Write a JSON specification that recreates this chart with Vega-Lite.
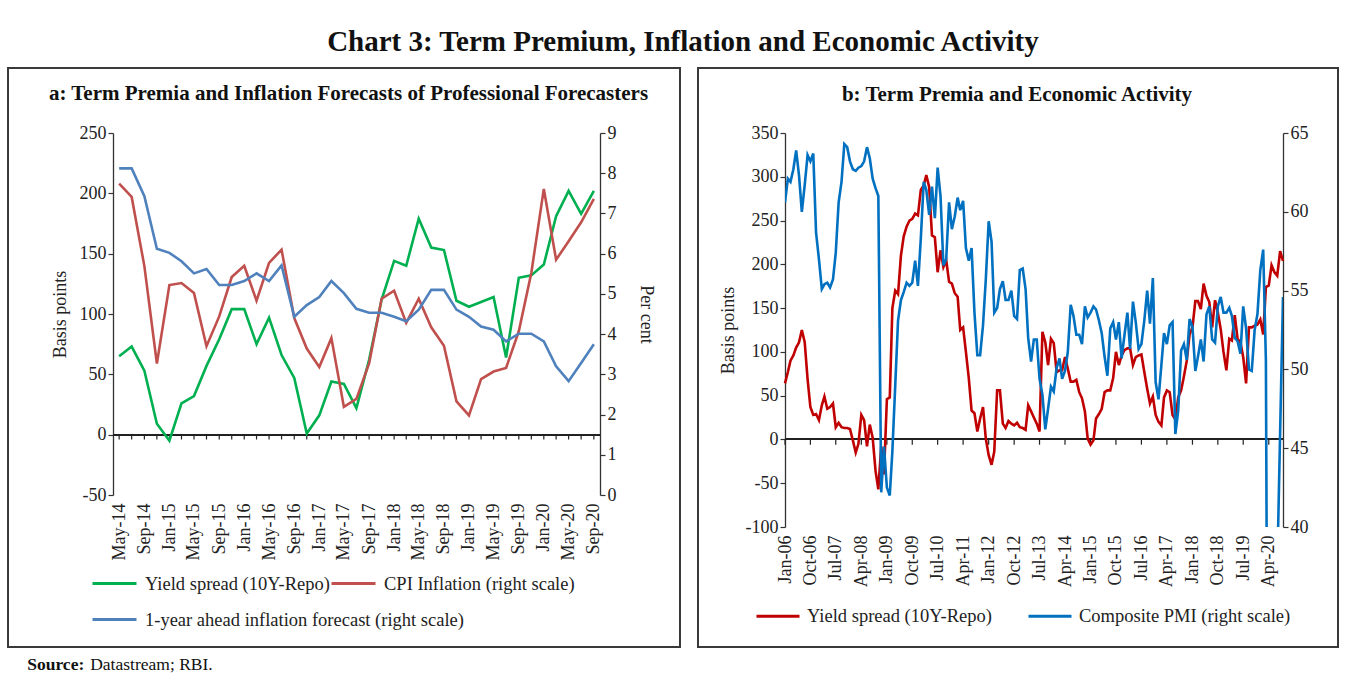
{
"$schema": "https://vega.github.io/schema/vega-lite/v6.json",
"padding": {"left": 7, "top": 28, "right": 5, "bottom": 2},
"background": "white",
"title": {"text": "Chart 3: Term Premium, Inflation and Economic Activity", "fontSize": 29, "font": "Liberation Serif", "fontWeight": "bold", "anchor": "middle", "color": "#111", "offset": 10, "dx": 10},
"config": {
  "font": "Liberation Serif",
  "view": {"stroke": null},
  "axis": {"labelFont": "Liberation Serif", "labelFontSize": 18, "labelColor": "#222", "titleFont": "Liberation Serif", "titleFontSize": 18, "titleFontWeight": "normal", "titleColor": "#222", "domainColor": "#333", "tickColor": "#333", "grid": false, "tickSize": 5, "domainWidth": 1.3, "tickWidth": 1.2},
  "legend": {"labelFont": "Liberation Serif", "labelFontSize": 18.5, "labelColor": "#222", "title": null}
},
"datasets": {
  "a": [
    {"d":"2014/05/01","spread":65,"cpi":7.74,"fcst":8.12},
    {"d":"2014/07/01","spread":73,"cpi":7.41,"fcst":8.12},
    {"d":"2014/09/01","spread":53,"cpi":5.69,"fcst":7.43},
    {"d":"2014/11/01","spread":9,"cpi":3.27,"fcst":6.12},
    {"d":"2015/01/01","spread":-5,"cpi":5.22,"fcst":6.02},
    {"d":"2015/03/01","spread":26,"cpi":5.27,"fcst":5.81},
    {"d":"2015/05/01","spread":32,"cpi":5.02,"fcst":5.51},
    {"d":"2015/07/01","spread":57,"cpi":3.70,"fcst":5.62},
    {"d":"2015/09/01","spread":79,"cpi":4.44,"fcst":5.22},
    {"d":"2015/11/01","spread":104,"cpi":5.42,"fcst":5.22},
    {"d":"2016/01/01","spread":104,"cpi":5.70,"fcst":5.32},
    {"d":"2016/03/01","spread":75,"cpi":4.83,"fcst":5.51},
    {"d":"2016/05/01","spread":97,"cpi":5.77,"fcst":5.32},
    {"d":"2016/07/01","spread":66,"cpi":6.10,"fcst":5.71},
    {"d":"2016/09/01","spread":47,"cpi":4.40,"fcst":4.43},
    {"d":"2016/11/01","spread":1,"cpi":3.64,"fcst":4.72},
    {"d":"2017/01/01","spread":16,"cpi":3.18,"fcst":4.92},
    {"d":"2017/03/01","spread":44,"cpi":3.90,"fcst":5.32},
    {"d":"2017/05/01","spread":42,"cpi":2.19,"fcst":5.02},
    {"d":"2017/07/01","spread":22,"cpi":2.39,"fcst":4.63},
    {"d":"2017/09/01","spread":62,"cpi":3.27,"fcst":4.53},
    {"d":"2017/11/01","spread":112,"cpi":4.88,"fcst":4.53},
    {"d":"2018/01/01","spread":144,"cpi":5.08,"fcst":4.43},
    {"d":"2018/03/01","spread":140,"cpi":4.28,"fcst":4.32},
    {"d":"2018/05/01","spread":179,"cpi":4.88,"fcst":4.61},
    {"d":"2018/07/01","spread":155,"cpi":4.17,"fcst":5.10},
    {"d":"2018/09/01","spread":153,"cpi":3.71,"fcst":5.10},
    {"d":"2018/11/01","spread":111,"cpi":2.33,"fcst":4.61},
    {"d":"2019/01/01","spread":106,"cpi":1.98,"fcst":4.43},
    {"d":"2019/03/01","spread":110,"cpi":2.88,"fcst":4.19},
    {"d":"2019/05/01","spread":114,"cpi":3.07,"fcst":4.11},
    {"d":"2019/07/01","spread":64,"cpi":3.16,"fcst":3.82},
    {"d":"2019/09/01","spread":130,"cpi":4.07,"fcst":4.01},
    {"d":"2019/11/01","spread":132,"cpi":5.52,"fcst":4.01},
    {"d":"2020/01/01","spread":141,"cpi":7.61,"fcst":3.82},
    {"d":"2020/03/01","spread":181,"cpi":5.85,"fcst":3.20},
    {"d":"2020/05/01","spread":202,"cpi":6.31,"fcst":2.83},
    {"d":"2020/07/01","spread":183,"cpi":6.78,"fcst":3.28},
    {"d":"2020/09/01","spread":202,"cpi":7.36,"fcst":3.75}
  ],
  "b": [
    {"d":"2006/01/01","s":64,"p":60.6},{"d":"2006/02/01","s":77,"p":62.1},{"d":"2006/03/01","s":90,"p":61.9},{"d":"2006/04/01","s":96,"p":62.7},
    {"d":"2006/05/01","s":105,"p":63.9},{"d":"2006/06/01","s":111,"p":62.3},{"d":"2006/07/01","s":125,"p":60.0},{"d":"2006/08/01","s":111,"p":61.7},
    {"d":"2006/09/01","s":69,"p":63.6},{"d":"2006/10/01","s":37,"p":63.2},{"d":"2006/11/01","s":28,"p":63.7},{"d":"2006/12/01","s":29,"p":58.7},
    {"d":"2007/01/01","s":22,"p":57.0},{"d":"2007/02/01","s":39,"p":55.1},{"d":"2007/03/01","s":49,"p":55.4},{"d":"2007/04/01","s":35,"p":55.5},
    {"d":"2007/05/01","s":37,"p":55.2},{"d":"2007/06/01","s":41,"p":55.7},{"d":"2007/07/01","s":14,"p":57.4},{"d":"2007/08/01","s":19,"p":60.6},
    {"d":"2007/09/01","s":14,"p":61.9},{"d":"2007/10/01","s":13,"p":64.3},{"d":"2007/11/01","s":13,"p":64.1},{"d":"2007/12/01","s":12,"p":63.2},
    {"d":"2008/01/01","s":-1,"p":62.7},{"d":"2008/02/01","s":-15,"p":62.6},{"d":"2008/03/01","s":-5,"p":62.8},{"d":"2008/04/01","s":28,"p":62.9},
    {"d":"2008/05/01","s":22,"p":63.2},{"d":"2008/06/01","s":-8,"p":64.1},{"d":"2008/07/01","s":17,"p":63.4},{"d":"2008/08/01","s":2,"p":62.1},
    {"d":"2008/09/01","s":-36,"p":61.5},{"d":"2008/10/01","s":-57,"p":61.0},{"d":"2008/11/01","s":-8,"p":42.2},{"d":"2008/12/01","s":-40,"p":45.1},
    {"d":"2009/01/01","s":46,"p":42.5},{"d":"2009/02/01","s":48,"p":42.0},{"d":"2009/03/01","s":150,"p":44.8},{"d":"2009/04/01","s":170,"p":49.0},
    {"d":"2009/05/01","s":166,"p":53.1},{"d":"2009/06/01","s":210,"p":54.4},{"d":"2009/07/01","s":232,"p":54.9},{"d":"2009/08/01","s":243,"p":55.5},
    {"d":"2009/09/01","s":250,"p":55.3},{"d":"2009/10/01","s":252,"p":55.5},{"d":"2009/11/01","s":258,"p":56.9},{"d":"2009/12/01","s":256,"p":55.3},
    {"d":"2010/01/01","s":285,"p":58.3},{"d":"2010/02/01","s":290,"p":61.9},{"d":"2010/03/01","s":302,"p":61.4},{"d":"2010/04/01","s":288,"p":59.8},
    {"d":"2010/05/01","s":233,"p":61.6},{"d":"2010/06/01","s":231,"p":59.6},{"d":"2010/07/01","s":191,"p":62.8},{"d":"2010/08/01","s":216,"p":61.0},
    {"d":"2010/09/01","s":197,"p":56.6},{"d":"2010/10/01","s":205,"p":57.0},{"d":"2010/11/01","s":180,"p":60.6},{"d":"2010/12/01","s":178,"p":58.9},
    {"d":"2011/01/01","s":167,"p":59.7},{"d":"2011/02/01","s":163,"p":60.9},{"d":"2011/03/01","s":125,"p":60.1},{"d":"2011/04/01","s":128,"p":60.7},
    {"d":"2011/05/01","s":100,"p":57.7},{"d":"2011/06/01","s":70,"p":56.9},{"d":"2011/07/01","s":33,"p":57.7},{"d":"2011/08/01","s":30,"p":53.6},
    {"d":"2011/09/01","s":9,"p":50.9},{"d":"2011/10/01","s":24,"p":50.9},{"d":"2011/11/01","s":37,"p":52.8},{"d":"2011/12/01","s":1,"p":55.7},
    {"d":"2012/01/01","s":-18,"p":59.4},{"d":"2012/02/01","s":-29,"p":58.1},{"d":"2012/03/01","s":-14,"p":53.6},{"d":"2012/04/01","s":56,"p":53.9},
    {"d":"2012/05/01","s":56,"p":55.1},{"d":"2012/06/01","s":18,"p":55.6},{"d":"2012/07/01","s":13,"p":54.4},{"d":"2012/08/01","s":21,"p":54.4},
    {"d":"2012/09/01","s":18,"p":55.0},{"d":"2012/10/01","s":16,"p":53.4},{"d":"2012/11/01","s":19,"p":53.2},{"d":"2012/12/01","s":14,"p":56.3},
    {"d":"2013/01/01","s":13,"p":56.4},{"d":"2013/02/01","s":11,"p":55.1},{"d":"2013/03/01","s":39,"p":52.0},{"d":"2013/04/01","s":32,"p":50.5},
    {"d":"2013/05/01","s":25,"p":51.9},{"d":"2013/06/01","s":18,"p":51.9},{"d":"2013/07/01","s":9,"p":49.4},{"d":"2013/08/01","s":123,"p":48.4},
    {"d":"2013/09/01","s":111,"p":46.2},{"d":"2013/10/01","s":85,"p":47.5},{"d":"2013/11/01","s":115,"p":48.9},{"d":"2013/12/01","s":110,"p":48.6},
    {"d":"2014/01/01","s":77,"p":50.1},{"d":"2014/02/01","s":79,"p":50.7},{"d":"2014/03/01","s":79,"p":49.4},{"d":"2014/04/01","s":94,"p":49.9},
    {"d":"2014/05/01","s":81,"p":51.1},{"d":"2014/06/01","s":66,"p":54.1},{"d":"2014/07/01","s":66,"p":53.4},{"d":"2014/08/01","s":68,"p":52.2},
    {"d":"2014/09/01","s":54,"p":52.2},{"d":"2014/10/01","s":47,"p":51.6},{"d":"2014/11/01","s":32,"p":54.0},{"d":"2014/12/01","s":1,"p":53.3},
    {"d":"2015/01/01","s":-6,"p":53.6},{"d":"2015/02/01","s":-1,"p":54.0},{"d":"2015/03/01","s":24,"p":53.8},{"d":"2015/04/01","s":29,"p":53.1},
    {"d":"2015/05/01","s":35,"p":52.3},{"d":"2015/06/01","s":54,"p":50.8},{"d":"2015/07/01","s":56,"p":49.6},{"d":"2015/08/01","s":56,"p":52.6},
    {"d":"2015/09/01","s":70,"p":53.0},{"d":"2015/10/01","s":100,"p":51.9},{"d":"2015/11/01","s":85,"p":53.0},{"d":"2015/12/01","s":96,"p":50.7},
    {"d":"2016/01/01","s":102,"p":52.2},{"d":"2016/02/01","s":104,"p":53.6},{"d":"2016/03/01","s":104,"p":51.3},{"d":"2016/04/01","s":85,"p":54.3},
    {"d":"2016/05/01","s":94,"p":53.0},{"d":"2016/06/01","s":96,"p":51.3},{"d":"2016/07/01","s":97,"p":51.6},{"d":"2016/08/01","s":77,"p":53.1},
    {"d":"2016/09/01","s":58,"p":55.0},{"d":"2016/10/01","s":41,"p":52.9},{"d":"2016/11/01","s":49,"p":55.8},{"d":"2016/12/01","s":28,"p":49.2},
    {"d":"2017/01/01","s":20,"p":48.1},{"d":"2017/02/01","s":16,"p":50.3},{"d":"2017/03/01","s":48,"p":52.3},{"d":"2017/04/01","s":56,"p":51.6},
    {"d":"2017/05/01","s":54,"p":52.8},{"d":"2017/06/01","s":28,"p":53.0},{"d":"2017/07/01","s":23,"p":45.9},{"d":"2017/08/01","s":48,"p":47.4},
    {"d":"2017/09/01","s":56,"p":51.2},{"d":"2017/10/01","s":72,"p":51.6},{"d":"2017/11/01","s":90,"p":50.6},{"d":"2017/12/01","s":120,"p":53.2},
    {"d":"2018/01/01","s":128,"p":52.7},{"d":"2018/02/01","s":158,"p":49.9},{"d":"2018/03/01","s":158,"p":50.8},{"d":"2018/04/01","s":149,"p":51.9},
    {"d":"2018/05/01","s":178,"p":50.5},{"d":"2018/06/01","s":164,"p":53.5},{"d":"2018/07/01","s":157,"p":54.0},{"d":"2018/08/01","s":128,"p":51.9},
    {"d":"2018/09/01","s":159,"p":51.7},{"d":"2018/10/01","s":145,"p":54.0},{"d":"2018/11/01","s":126,"p":54.6},{"d":"2018/12/01","s":100,"p":53.6},
    {"d":"2019/01/01","s":79,"p":53.6},{"d":"2019/02/01","s":115,"p":53.9},{"d":"2019/03/01","s":113,"p":53.4},{"d":"2019/04/01","s":142,"p":52.0},
    {"d":"2019/05/01","s":115,"p":51.8},{"d":"2019/06/01","s":111,"p":51.0},{"d":"2019/07/01","s":94,"p":54.0},{"d":"2019/08/01","s":64,"p":52.6},
    {"d":"2019/09/01","s":128,"p":50.0},{"d":"2019/10/01","s":128,"p":49.9},{"d":"2019/11/01","s":130,"p":52.5},{"d":"2019/12/01","s":131,"p":53.5},
    {"d":"2020/01/01","s":137,"p":56.3},{"d":"2020/02/01","s":120,"p":57.6},{"d":"2020/03/01","s":174,"p":50.6},{"d":"2020/04/01","s":176,"p":7.2},
    {"d":"2020/05/01","s":199,"p":14.8},{"d":"2020/06/01","s":191,"p":37.8},{"d":"2020/07/01","s":187,"p":37.2},{"d":"2020/08/01","s":215,"p":46.0},
    {"d":"2020/09/01","s":204,"p":54.6}
  ]
},
"vconcat": [
 {
  "title": {"text": "Source:", "orient": "bottom", "anchor": "start", "fontSize": 17.5, "fontWeight": "bold", "font": "Liberation Serif", "color": "#111", "dx": 20, "offset": -17.5},
  "vconcat": [
   {
    "title": {"text": "Datastream; RBI.", "orient": "bottom", "anchor": "start", "fontSize": 17.5, "fontWeight": "normal", "font": "Liberation Serif", "color": "#111", "dx": 83, "offset": 8},
    "spacing": 16,
    "resolve": {"scale": {"color": "independent", "x": "independent", "y": "independent"}},
    "hconcat": [
     {
      "title": {"text": "a: Term Premia and Inflation Forecasts of Professional Forecasters", "fontSize": 21, "fontWeight": "bold", "font": "Liberation Serif", "color": "#111", "anchor": "middle", "dx": -8, "offset": -37},
      "width": 487, "height": 362,
      "data": {"name": "a"},
      "layer": [
        {"layer": [
          {"mark": {"type": "rect", "fill": "transparent", "stroke": "#3a3a3a", "strokeWidth": 1.2},
           "encoding": {
             "x": {"datum": {"year":2012,"month":11,"date":4}, "type": "temporal",
                   "scale": {"domain": [{"year":2014,"month":4,"date":1},{"year":2020,"month":10,"date":1}]},
                   "axis": {"title": null, "domain": false, "ticks": false, "format": "%b-%y", "labelAngle": -90, "labelPadding": 8,
                            "values": [{"year":2014,"month":5,"date":1},{"year":2014,"month":9,"date":1},
                                       {"year":2015,"month":1,"date":1},{"year":2015,"month":5,"date":1},{"year":2015,"month":9,"date":1},
                                       {"year":2016,"month":1,"date":1},{"year":2016,"month":5,"date":1},{"year":2016,"month":9,"date":1},
                                       {"year":2017,"month":1,"date":1},{"year":2017,"month":5,"date":1},{"year":2017,"month":9,"date":1},
                                       {"year":2018,"month":1,"date":1},{"year":2018,"month":5,"date":1},{"year":2018,"month":9,"date":1},
                                       {"year":2019,"month":1,"date":1},{"year":2019,"month":5,"date":1},{"year":2019,"month":9,"date":1},
                                       {"year":2020,"month":1,"date":1},{"year":2020,"month":5,"date":1},{"year":2020,"month":9,"date":1}]}},
             "x2": {"datum": {"year":2021,"month":10,"date":27}},
             "y": {"datum": 304, "type": "quantitative", "scale": {"domain": [-50, 250]},
                   "axis": {"title": "Basis points", "values": [-50,0,50,100,150,200,250], "titlePadding": 10, "labelExpr": "'' + datum.value"}},
             "y2": {"datum": -176}}},
          {"mark": {"type": "rule", "color": "#222", "strokeWidth": 1.3},
           "encoding": {"y": {"datum": 0, "type": "quantitative", "scale": {"domain": [-50, 250]},
                              "axis": {"title": "Basis points", "values": [-50,0,50,100,150,200,250], "titlePadding": 10, "labelExpr": "'' + datum.value"}}}},
          {"mark": {"type": "rule", "color": "#222", "strokeWidth": 1.2},
           "encoding": {
             "x": {"field": "d", "type": "temporal",
                   "scale": {"domain": [{"year":2014,"month":4,"date":1},{"year":2020,"month":10,"date":1}]},
                   "axis": {"title": null, "domain": false, "ticks": false, "format": "%b-%y", "labelAngle": -90, "labelPadding": 8,
                            "values": [{"year":2014,"month":5,"date":1},{"year":2014,"month":9,"date":1},
                                       {"year":2015,"month":1,"date":1},{"year":2015,"month":5,"date":1},{"year":2015,"month":9,"date":1},
                                       {"year":2016,"month":1,"date":1},{"year":2016,"month":5,"date":1},{"year":2016,"month":9,"date":1},
                                       {"year":2017,"month":1,"date":1},{"year":2017,"month":5,"date":1},{"year":2017,"month":9,"date":1},
                                       {"year":2018,"month":1,"date":1},{"year":2018,"month":5,"date":1},{"year":2018,"month":9,"date":1},
                                       {"year":2019,"month":1,"date":1},{"year":2019,"month":5,"date":1},{"year":2019,"month":9,"date":1},
                                       {"year":2020,"month":1,"date":1},{"year":2020,"month":5,"date":1},{"year":2020,"month":9,"date":1}]}},
             "y": {"datum": 0, "type": "quantitative", "scale": {"domain": [-50, 250]},
                   "axis": {"title": "Basis points", "values": [-50,0,50,100,150,200,250], "titlePadding": 10, "labelExpr": "'' + datum.value"}},
             "y2": {"datum": -4}}},
          {"mark": {"type": "line", "strokeWidth": 2.6},
           "encoding": {
             "x": {"field": "d", "type": "temporal",
                   "scale": {"domain": [{"year":2014,"month":4,"date":1},{"year":2020,"month":10,"date":1}]},
                   "axis": {"title": null, "domain": false, "ticks": false, "format": "%b-%y", "labelAngle": -90, "labelPadding": 8,
                            "values": [{"year":2014,"month":5,"date":1},{"year":2014,"month":9,"date":1},
                                       {"year":2015,"month":1,"date":1},{"year":2015,"month":5,"date":1},{"year":2015,"month":9,"date":1},
                                       {"year":2016,"month":1,"date":1},{"year":2016,"month":5,"date":1},{"year":2016,"month":9,"date":1},
                                       {"year":2017,"month":1,"date":1},{"year":2017,"month":5,"date":1},{"year":2017,"month":9,"date":1},
                                       {"year":2018,"month":1,"date":1},{"year":2018,"month":5,"date":1},{"year":2018,"month":9,"date":1},
                                       {"year":2019,"month":1,"date":1},{"year":2019,"month":5,"date":1},{"year":2019,"month":9,"date":1},
                                       {"year":2020,"month":1,"date":1},{"year":2020,"month":5,"date":1},{"year":2020,"month":9,"date":1}]}},
             "y": {"field": "spread", "type": "quantitative", "scale": {"domain": [-50, 250]},
                   "axis": {"title": "Basis points", "values": [-50,0,50,100,150,200,250], "titlePadding": 10, "labelExpr": "'' + datum.value"}},
             "color": {"datum": "Yield spread (10Y-Repo)", "type": "nominal",
                       "scale": {"domain": ["Yield spread (10Y-Repo)", "CPI Inflation (right scale)"],
                                 "range": ["#00B050", "#C0504D"]},
                       "legend": {"orient": "none", "legendX": -22, "legendY": 427, "direction": "horizontal", "columns": 2,
                                  "symbolType": "stroke", "symbolSize": 1936, "symbolStrokeWidth": 3, "labelLimit": 600, "labelOffset": 7,
                                  "columnPadding": -7, "title": null}}}}
        ]},
        {"layer": [
          {"mark": {"type": "line", "strokeWidth": 2.6},
           "encoding": {
             "x": {"field": "d", "type": "temporal",
                   "scale": {"domain": [{"year":2014,"month":4,"date":1},{"year":2020,"month":10,"date":1}]},
                   "axis": {"title": null, "domain": false, "ticks": false, "format": "%b-%y", "labelAngle": -90, "labelPadding": 8,
                            "values": [{"year":2014,"month":5,"date":1},{"year":2014,"month":9,"date":1},
                                       {"year":2015,"month":1,"date":1},{"year":2015,"month":5,"date":1},{"year":2015,"month":9,"date":1},
                                       {"year":2016,"month":1,"date":1},{"year":2016,"month":5,"date":1},{"year":2016,"month":9,"date":1},
                                       {"year":2017,"month":1,"date":1},{"year":2017,"month":5,"date":1},{"year":2017,"month":9,"date":1},
                                       {"year":2018,"month":1,"date":1},{"year":2018,"month":5,"date":1},{"year":2018,"month":9,"date":1},
                                       {"year":2019,"month":1,"date":1},{"year":2019,"month":5,"date":1},{"year":2019,"month":9,"date":1},
                                       {"year":2020,"month":1,"date":1},{"year":2020,"month":5,"date":1},{"year":2020,"month":9,"date":1}]}},
             "y": {"field": "cpi", "type": "quantitative", "scale": {"domain": [0, 9]},
                   "axis": {"orient": "right", "title": "Per cent", "values": [0,1,2,3,4,5,6,7,8,9], "titlePadding": 20}},
             "color": {"datum": "CPI Inflation (right scale)", "type": "nominal"}}},
          {"mark": {"type": "line", "strokeWidth": 2.6},
           "encoding": {
             "x": {"field": "d", "type": "temporal",
                   "scale": {"domain": [{"year":2014,"month":4,"date":1},{"year":2020,"month":10,"date":1}]},
                   "axis": {"title": null, "domain": false, "ticks": false, "format": "%b-%y", "labelAngle": -90, "labelPadding": 8,
                            "values": [{"year":2014,"month":5,"date":1},{"year":2014,"month":9,"date":1},
                                       {"year":2015,"month":1,"date":1},{"year":2015,"month":5,"date":1},{"year":2015,"month":9,"date":1},
                                       {"year":2016,"month":1,"date":1},{"year":2016,"month":5,"date":1},{"year":2016,"month":9,"date":1},
                                       {"year":2017,"month":1,"date":1},{"year":2017,"month":5,"date":1},{"year":2017,"month":9,"date":1},
                                       {"year":2018,"month":1,"date":1},{"year":2018,"month":5,"date":1},{"year":2018,"month":9,"date":1},
                                       {"year":2019,"month":1,"date":1},{"year":2019,"month":5,"date":1},{"year":2019,"month":9,"date":1},
                                       {"year":2020,"month":1,"date":1},{"year":2020,"month":5,"date":1},{"year":2020,"month":9,"date":1}]}},
             "y": {"field": "fcst", "type": "quantitative", "scale": {"domain": [0, 9]},
                   "axis": {"orient": "right", "title": "Per cent", "values": [0,1,2,3,4,5,6,7,8,9], "titlePadding": 20}},
             "stroke": {"datum": "1-year ahead inflation forecast (right scale)", "type": "nominal",
                        "scale": {"range": ["#4F81BD"]},
                        "legend": {"orient": "none", "legendX": -22, "legendY": 463, "direction": "horizontal",
                                   "symbolType": "stroke", "symbolSize": 1936, "symbolStrokeWidth": 3, "labelLimit": 600, "labelOffset": 7,
                                   "title": null}}}}
        ]}
      ],
      "resolve": {"scale": {"y": "independent"}}
     },
     {
      "title": {"text": "b: Term Premia and Economic Activity", "fontSize": 21, "fontWeight": "bold", "font": "Liberation Serif", "color": "#111", "anchor": "middle", "dx": -17, "offset": -37},
      "width": 498, "height": 394,
      "data": {"name": "b"},
      "layer": [
        {"layer": [
          {"mark": {"type": "rect", "fill": "transparent", "stroke": "#3a3a3a", "strokeWidth": 1.2},
           "encoding": {
             "x": {"datum": {"year":2003,"month":6,"date":10}, "type": "temporal",
                   "scale": {"domain": [{"year":2006,"month":1,"date":1},{"year":2020,"month":9,"date":1}]},
                   "axis": {"title": null, "domain": false, "ticks": false, "format": "%b-%y", "labelAngle": -90, "labelPadding": 8,
                            "values": [{"year":2006,"month":1,"date":1},{"year":2006,"month":10,"date":1},{"year":2007,"month":7,"date":1},
                                       {"year":2008,"month":4,"date":1},{"year":2009,"month":1,"date":1},{"year":2009,"month":10,"date":1},
                                       {"year":2010,"month":7,"date":1},{"year":2011,"month":4,"date":1},{"year":2012,"month":1,"date":1},
                                       {"year":2012,"month":10,"date":1},{"year":2013,"month":7,"date":1},{"year":2014,"month":4,"date":1},
                                       {"year":2015,"month":1,"date":1},{"year":2015,"month":10,"date":1},{"year":2016,"month":7,"date":1},
                                       {"year":2017,"month":4,"date":1},{"year":2018,"month":1,"date":1},{"year":2018,"month":10,"date":1},
                                       {"year":2019,"month":7,"date":1},{"year":2020,"month":4,"date":1}]}},
             "x2": {"datum": {"year":2022,"month":4,"date":16}},
             "y": {"datum": 424, "type": "quantitative", "scale": {"domain": [-100, 350]},
                   "axis": {"title": "Basis points", "values": [-100,-50,0,50,100,150,200,250,300,350], "titlePadding": 8, "labelExpr": "'' + datum.value"}},
             "y2": {"datum": -237}}},
          {"mark": {"type": "rule", "color": "#222", "strokeWidth": 1.3},
           "encoding": {"y": {"datum": 0, "type": "quantitative", "scale": {"domain": [-100, 350]},
                              "axis": {"title": "Basis points", "values": [-100,-50,0,50,100,150,200,250,300,350], "titlePadding": 8, "labelExpr": "'' + datum.value"}}}},
          {"transform": [{"filter": "((year(toDate(datum.d)) - 2006) * 12 + month(toDate(datum.d))) % 9 == 0"}],
           "mark": {"type": "rule", "color": "#222", "strokeWidth": 1.2},
           "encoding": {
             "x": {"field": "d", "type": "temporal",
                   "scale": {"domain": [{"year":2006,"month":1,"date":1},{"year":2020,"month":9,"date":1}]},
                   "axis": {"title": null, "domain": false, "ticks": false, "format": "%b-%y", "labelAngle": -90, "labelPadding": 8,
                            "values": [{"year":2006,"month":1,"date":1},{"year":2006,"month":10,"date":1},{"year":2007,"month":7,"date":1},
                                       {"year":2008,"month":4,"date":1},{"year":2009,"month":1,"date":1},{"year":2009,"month":10,"date":1},
                                       {"year":2010,"month":7,"date":1},{"year":2011,"month":4,"date":1},{"year":2012,"month":1,"date":1},
                                       {"year":2012,"month":10,"date":1},{"year":2013,"month":7,"date":1},{"year":2014,"month":4,"date":1},
                                       {"year":2015,"month":1,"date":1},{"year":2015,"month":10,"date":1},{"year":2016,"month":7,"date":1},
                                       {"year":2017,"month":4,"date":1},{"year":2018,"month":1,"date":1},{"year":2018,"month":10,"date":1},
                                       {"year":2019,"month":7,"date":1},{"year":2020,"month":4,"date":1}]}},
             "y": {"datum": 0, "type": "quantitative", "scale": {"domain": [-100, 350]},
                   "axis": {"title": "Basis points", "values": [-100,-50,0,50,100,150,200,250,300,350], "titlePadding": 8, "labelExpr": "'' + datum.value"}},
             "y2": {"datum": -6}}},
          {"mark": {"type": "line", "strokeWidth": 2.6},
           "encoding": {
             "x": {"field": "d", "type": "temporal",
                   "scale": {"domain": [{"year":2006,"month":1,"date":1},{"year":2020,"month":9,"date":1}]},
                   "axis": {"title": null, "domain": false, "ticks": false, "format": "%b-%y", "labelAngle": -90, "labelPadding": 8,
                            "values": [{"year":2006,"month":1,"date":1},{"year":2006,"month":10,"date":1},{"year":2007,"month":7,"date":1},
                                       {"year":2008,"month":4,"date":1},{"year":2009,"month":1,"date":1},{"year":2009,"month":10,"date":1},
                                       {"year":2010,"month":7,"date":1},{"year":2011,"month":4,"date":1},{"year":2012,"month":1,"date":1},
                                       {"year":2012,"month":10,"date":1},{"year":2013,"month":7,"date":1},{"year":2014,"month":4,"date":1},
                                       {"year":2015,"month":1,"date":1},{"year":2015,"month":10,"date":1},{"year":2016,"month":7,"date":1},
                                       {"year":2017,"month":4,"date":1},{"year":2018,"month":1,"date":1},{"year":2018,"month":10,"date":1},
                                       {"year":2019,"month":7,"date":1},{"year":2020,"month":4,"date":1}]}},
             "y": {"field": "s", "type": "quantitative", "scale": {"domain": [-100, 350]},
                   "axis": {"title": "Basis points", "values": [-100,-50,0,50,100,150,200,250,300,350], "titlePadding": 8, "labelExpr": "'' + datum.value"}},
             "color": {"datum": "Yield spread (10Y-Repo)", "type": "nominal",
                       "scale": {"domain": ["Yield spread (10Y-Repo)", "Composite PMI (right scale)"], "range": ["#C00000", "#0070C0"]},
                       "legend": {"orient": "none", "legendX": -30, "legendY": 460, "direction": "horizontal",
                                  "symbolType": "stroke", "symbolSize": 1849, "symbolStrokeWidth": 3, "labelLimit": 600, "labelOffset": 6,
                                  "columnPadding": 30, "title": null}}}}
        ]},
        {"mark": {"type": "line", "strokeWidth": 2.6, "clip": true},
         "encoding": {
           "x": {"field": "d", "type": "temporal",
                 "scale": {"domain": [{"year":2006,"month":1,"date":1},{"year":2020,"month":9,"date":1}]},
                 "axis": {"title": null, "domain": false, "ticks": false, "format": "%b-%y", "labelAngle": -90, "labelPadding": 8,
                          "values": [{"year":2006,"month":1,"date":1},{"year":2006,"month":10,"date":1},{"year":2007,"month":7,"date":1},
                                     {"year":2008,"month":4,"date":1},{"year":2009,"month":1,"date":1},{"year":2009,"month":10,"date":1},
                                     {"year":2010,"month":7,"date":1},{"year":2011,"month":4,"date":1},{"year":2012,"month":1,"date":1},
                                     {"year":2012,"month":10,"date":1},{"year":2013,"month":7,"date":1},{"year":2014,"month":4,"date":1},
                                     {"year":2015,"month":1,"date":1},{"year":2015,"month":10,"date":1},{"year":2016,"month":7,"date":1},
                                     {"year":2017,"month":4,"date":1},{"year":2018,"month":1,"date":1},{"year":2018,"month":10,"date":1},
                                     {"year":2019,"month":7,"date":1},{"year":2020,"month":4,"date":1}]}},
           "y": {"field": "p", "type": "quantitative", "scale": {"domain": [40, 65]},
                 "axis": {"orient": "right", "title": null, "values": [40,45,50,55,60,65]}},
           "color": {"datum": "Composite PMI (right scale)", "type": "nominal"}}}
      ],
      "resolve": {"scale": {"y": "independent"}}
     }
    ]
   }
  ]
 }
]
}
